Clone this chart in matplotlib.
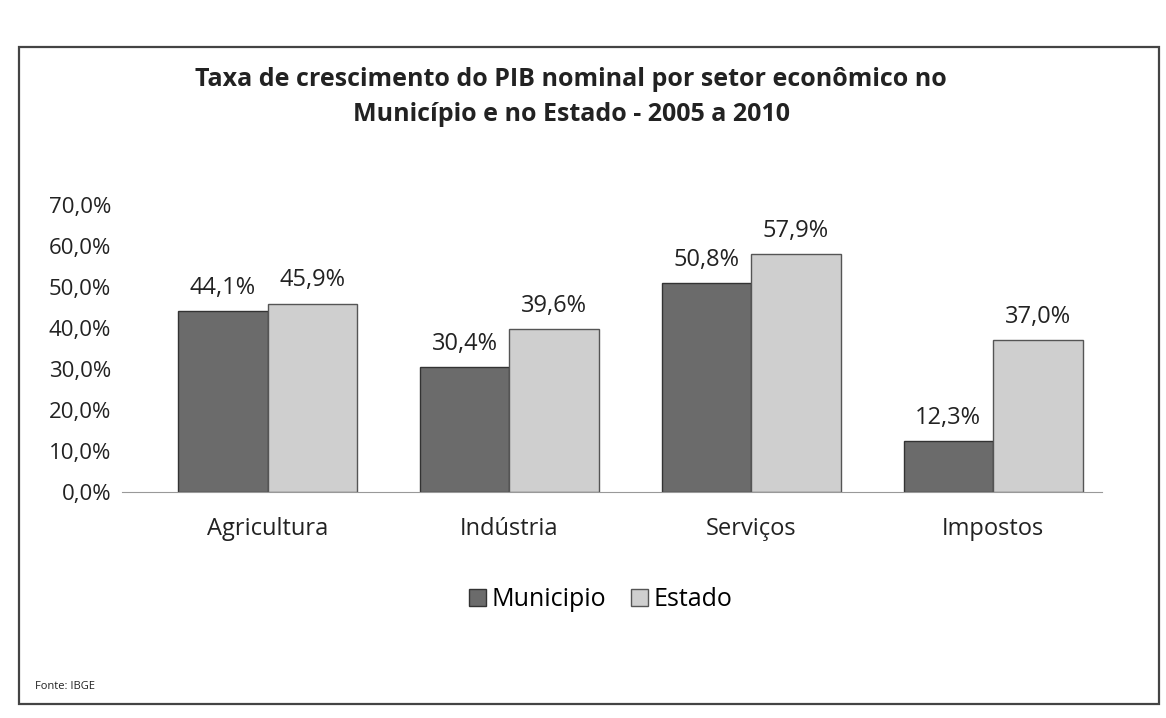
import matplotlib.pyplot as plt
from matplotlib.patches import Rectangle
from matplotlib.ticker import FuncFormatter

categorias = ["Agricultura", "Indústria", "Serviços", "Impostos"]
municipio = [44.1, 30.4, 50.8, 12.3]
estado = [45.9, 39.6, 57.9, 37.0]
series = ["Municipio", "Estado"]
titulo = "Taxa de crescimento do PIB nominal por setor econômico no\nMunicípio e no Estado - 2005 a 2010"
fonte = "Fonte: IBGE"

plt.rcParams['font.family'] = ['Open Sans', 'DejaVu Sans']

cor_mun = "#6b6b6b"
cor_est = "#cfcfcf"

fig = plt.figure(figsize=(11.66, 7.18), dpi=100)
fig.patch.set_facecolor("white")

# moldura do grafico
fig.patches.append(Rectangle((0.016, 0.02), 0.978, 0.915, transform=fig.transFigure,
                             fill=False, edgecolor="#444444", linewidth=1.6))

ax = fig.add_axes([0.105, 0.315, 0.84, 0.40])
ax.set_facecolor("none")

x = range(len(categorias))
w = 0.37
b1 = ax.bar([i - w / 2 for i in x], [v / 100 for v in municipio], w,
            color=cor_mun, edgecolor="#333333", linewidth=1.0, label=series[0])
b2 = ax.bar([i + w / 2 for i in x], [v / 100 for v in estado], w,
            color=cor_est, edgecolor="#555555", linewidth=1.0, label=series[1])

for bars, vals in ((b1, municipio), (b2, estado)):
    for rect, v in zip(bars, vals):
        ax.annotate(f"{v:.1f}%".replace(".", ","),
                    (rect.get_x() + rect.get_width() / 2, rect.get_height()),
                    xytext=(0, 8), textcoords="offset points",
                    ha="center", va="bottom", fontsize=17, color="#222222")

ax.set_ylim(0, 0.7)
ax.set_xlim(-0.6, 3.45)
ax.set_yticks([i / 10 for i in range(8)])
ax.yaxis.set_major_formatter(FuncFormatter(lambda v, p: f"{v * 100:.1f}%".replace(".", ",")))
ax.set_xticks(list(x))
ax.set_xticklabels(categorias)
ax.tick_params(axis="y", length=0, labelsize=16, pad=8, colors="#222222")
ax.tick_params(axis="x", length=0, labelsize=17, pad=18, colors="#222222")
for s in ("top", "right", "left"):
    ax.spines[s].set_visible(False)
ax.spines["bottom"].set_color("#999999")

fig.text(0.49, 0.865, titulo, ha="center", va="center", fontsize=18,
         fontweight="bold", color="#222222", linespacing=1.5)

fig.legend(handles=[b1, b2], labels=series, loc="center", bbox_to_anchor=(0.515, 0.165),
           ncol=2, frameon=False, fontsize=18, handlelength=0.7, handleheight=0.7,
           handletextpad=0.2, columnspacing=1.0)

fig.text(0.03, 0.04, fonte, fontsize=8, color="#222222")

fig.savefig("out.png", dpi=100, facecolor=fig.get_facecolor())
